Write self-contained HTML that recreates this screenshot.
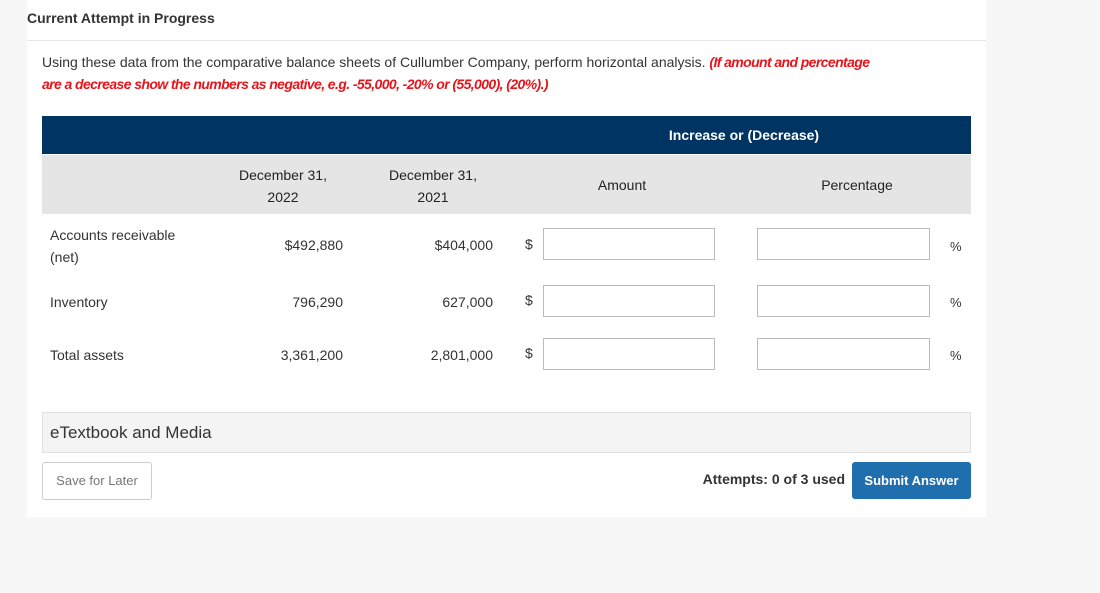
<!DOCTYPE html>
<html><head><meta charset="utf-8"><style>
body{margin:0;width:1100px;height:593px;background:#f7f7f7;font-family:"Liberation Sans",sans-serif;color:#333;position:relative;overflow:hidden}
.a{position:absolute}
.card{left:27px;top:0;width:959px;height:517px;background:#fff}
.inp{position:absolute;height:32px;border:1px solid #bbb;background:#fff;box-sizing:border-box}
.t{font-size:14px;color:#333}
</style></head><body>
<div class="a card"></div>
<div class="a" style="left:27px;top:10px;font-size:14px;font-weight:bold;color:#333">Current Attempt in Progress</div>
<div class="a" style="left:27px;top:40px;width:959px;height:1px;background:#e6e6e6"></div>
<div class="a" style="left:42px;top:51px;width:940px;font-size:14px;line-height:22px;color:#333;white-space:nowrap">Using these data from the comparative balance sheets of Cullumber Company, perform horizontal analysis. <b style="color:#e8141b;font-style:italic;letter-spacing:-0.6px">(If amount and percentage</b><br><b style="color:#e8141b;font-style:italic;letter-spacing:-0.6px">are a decrease show the numbers as negative, e.g. -55,000, -20% or (55,000), (20%).)</b></div>
<div class="a" style="left:42px;top:116px;width:929px;height:38px;background:#003462"></div>
<div class="a" style="left:560px;top:127px;width:368px;text-align:center;color:#fff;font-weight:bold;font-size:14px">Increase or (Decrease)</div>
<div class="a" style="left:42px;top:155px;width:929px;height:59px;background:#e5e5e5"></div>
<div class="a t" style="left:213px;top:164px;width:140px;text-align:center;line-height:22px;color:#222">December 31,<br>2022</div>
<div class="a t" style="left:363px;top:164px;width:140px;text-align:center;line-height:22px;color:#222">December 31,<br>2021</div>
<div class="a t" style="left:552px;top:177px;width:140px;text-align:center;color:#222">Amount</div>
<div class="a t" style="left:787px;top:177px;width:140px;text-align:center;color:#222">Percentage</div>

<div class="a t" style="left:50px;top:224px;line-height:22px">Accounts receivable<br>(net)</div>
<div class="a t" style="left:213px;top:237px;width:130px;text-align:right">$492,880</div>
<div class="a t" style="left:363px;top:237px;width:130px;text-align:right">$404,000</div>
<div class="a t" style="left:525px;top:236px">$</div>
<div class="inp" style="left:543px;top:228px;width:172px"></div>
<div class="inp" style="left:757px;top:228px;width:173px"></div>
<div class="a t" style="left:950px;top:239px;font-size:13px">%</div>

<div class="a t" style="left:50px;top:294px">Inventory</div>
<div class="a t" style="left:213px;top:294px;width:130px;text-align:right">796,290</div>
<div class="a t" style="left:363px;top:294px;width:130px;text-align:right">627,000</div>
<div class="a t" style="left:525px;top:292px">$</div>
<div class="inp" style="left:543px;top:285px;width:172px"></div>
<div class="inp" style="left:757px;top:285px;width:173px"></div>
<div class="a t" style="left:950px;top:295px;font-size:13px">%</div>

<div class="a t" style="left:50px;top:347px">Total assets</div>
<div class="a t" style="left:213px;top:347px;width:130px;text-align:right">3,361,200</div>
<div class="a t" style="left:363px;top:347px;width:130px;text-align:right">2,801,000</div>
<div class="a t" style="left:525px;top:345px">$</div>
<div class="inp" style="left:543px;top:338px;width:172px"></div>
<div class="inp" style="left:757px;top:338px;width:173px"></div>
<div class="a t" style="left:950px;top:348px;font-size:13px">%</div>

<div class="a" style="left:42px;top:412px;width:927px;height:39px;background:#f4f4f4;border:1px solid #e0e0e0"></div>
<div class="a" style="left:50px;top:423px;font-size:17px;color:#333">eTextbook and Media</div>
<div class="a" style="left:42px;top:462px;width:108px;height:36px;border:1px solid #ccc;border-radius:3px;background:#fff;font-size:13px;color:#777;text-align:center;line-height:36px">Save for Later</div>
<div class="a" style="left:640px;top:471px;width:205px;text-align:right;font-size:14px;font-weight:bold;color:#333">Attempts: 0 of 3 used</div>
<div class="a" style="left:852px;top:462px;width:119px;height:37px;border-radius:3px;background:#1f6fae;color:#fff;font-size:13px;font-weight:bold;text-align:center;line-height:37px">Submit Answer</div>
</body></html>
